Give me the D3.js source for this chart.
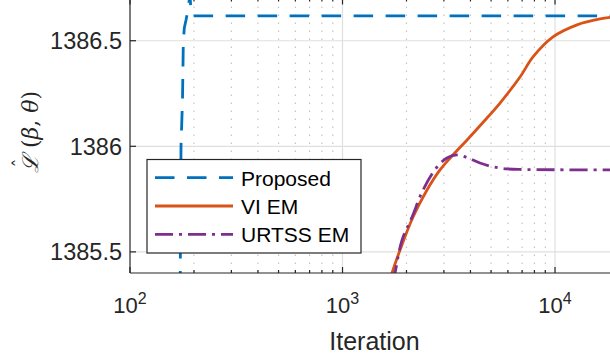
<!DOCTYPE html>
<html>
<head>
<meta charset="utf-8">
<script src="https://cdn.jsdelivr.net/npm/d3@7"></script>
<style>
  body { margin: 0; background: #fff; }
  svg { display: block; font-family: "Liberation Sans", Arial, Helvetica, sans-serif; }
</style>
</head>
<body>
<svg id="chart" width="610" height="361"></svg>
<script>
// Proposed: jumps up around iteration ~175, then flat
const proposedIter = [150, 170, 172.4, 173.8, 176.6, 178.2, 180.1, 183.5, 186.1, 188.1, 191.6, 193.5, 195.8, 20000];
const proposedVal  = [1383.5, 1385.0, 1385.4, 1386.0, 1386.22, 1386.495, 1386.56, 1386.598, 1386.631, 1386.66, 1386.72, 1386.64, 1386.618, 1386.618];

// VI EM
const viIter = [1550, 1710, 1865, 2147, 2498, 2876, 3311, 3855, 4600, 5510, 6843, 7877, 9787, 12695, 16285, 20000];
const viVal  = [1385.25, 1385.4, 1385.509, 1385.665, 1385.793, 1385.888, 1385.959, 1386.03, 1386.115, 1386.205, 1386.328, 1386.423, 1386.518, 1386.575, 1386.603, 1386.615];

// URTSS EM
const urtssIter = [1600, 1766, 1905, 2124, 2392, 2784, 3100, 3457, 3900, 4437, 5100, 5943, 7000, 10000, 20000];
const urtssVal  = [1385.2, 1385.4, 1385.556, 1385.665, 1385.793, 1385.902, 1385.945, 1385.959, 1385.945, 1385.921, 1385.903, 1385.893, 1385.89, 1385.889, 1385.888];

const xTicks = [100, 1000, 10000];
const xTickExp = ['2', '3', '4'];
const yTicks = [1385.5, 1386, 1386.5];
const yTickLabels = ['1385.5', '1386', '1386.5'];
const seriesNames = ['Proposed', 'VI EM', 'URTSS EM'];
const seriesColors = ['#0072BD', '#D95319', '#7E2F8E'];
const seriesDash = ['19.5,12.5', null, '18,6,3,6'];

const svg = d3.select('#chart');
const pLeft = 130, pRight = 619, pTop = -1.5, pBottom = 273;
const axisColor = '#262626';

const x = d3.scaleLog().domain([100, 20000]).range([pLeft, pRight]);
const y = d3.scaleLinear().domain([1385.4, 1386.7]).range([pBottom, pTop]);

// clip for plot area
svg.append('defs').append('clipPath').attr('id', 'plotClip')
  .append('rect').attr('x', pLeft).attr('y', pTop).attr('width', pRight - pLeft).attr('height', pBottom - pTop);

// minor values for log axis
const minorVals = [];
[100, 1000, 10000].forEach(d => {
  for (let k = 2; k <= 9; k++) if (d * k < 20000) minorVals.push(d * k);
});

const grid = svg.append('g');
// minor grid (dotted)
grid.selectAll('.minor-grid').data(minorVals).enter().append('line')
  .attr('x1', d => x(d)).attr('x2', d => x(d))
  .attr('y1', pTop).attr('y2', pBottom)
  .attr('stroke', '#c4c4c4').attr('stroke-width', 1.2)
  .attr('stroke-dasharray', '1.5,6.5');
// major grid
grid.selectAll('.xgrid').data(xTicks.slice(1)).enter().append('line')
  .attr('x1', d => x(d)).attr('x2', d => x(d))
  .attr('y1', pTop).attr('y2', pBottom)
  .attr('stroke', '#dfdfdf').attr('stroke-width', 1.2);
grid.selectAll('.ygrid').data(yTicks).enter().append('line')
  .attr('x1', pLeft).attr('x2', pRight)
  .attr('y1', d => y(d)).attr('y2', d => y(d))
  .attr('stroke', '#dfdfdf').attr('stroke-width', 1.2);

// series lines
const series = [
  { iter: proposedIter, val: proposedVal, curve: d3.curveLinear },
  { iter: viIter, val: viVal, curve: d3.curveCatmullRom.alpha(0.5) },
  { iter: urtssIter, val: urtssVal, curve: d3.curveCatmullRom.alpha(0.5) }
];
const plot = svg.append('g').attr('clip-path', 'url(#plotClip)');
series.forEach((s, i) => {
  const pts = s.iter.map((it, j) => [it, s.val[j]]);
  const line = d3.line().x(d => x(d[0])).y(d => y(d[1])).curve(s.curve);
  plot.append('path')
    .attr('d', line(pts))
    .attr('fill', 'none')
    .attr('stroke', seriesColors[i])
    .attr('stroke-width', 2.8)
    .attr('stroke-dasharray', seriesDash[i]);
});

// axes box lines
const ax = svg.append('g').attr('stroke', axisColor).attr('stroke-width', 1.2);
ax.append('line').attr('x1', pLeft).attr('x2', pRight).attr('y1', pBottom).attr('y2', pBottom);
ax.append('line').attr('x1', pLeft).attr('x2', pRight).attr('y1', pTop).attr('y2', pTop);
ax.append('line').attr('x1', pLeft).attr('x2', pLeft).attr('y1', pTop).attr('y2', pBottom);

// ticks (inward)
xTicks.forEach(d => {
  ax.append('line').attr('x1', x(d)).attr('x2', x(d)).attr('y1', pBottom).attr('y2', pBottom - 6);
  ax.append('line').attr('x1', x(d)).attr('x2', x(d)).attr('y1', pTop).attr('y2', pTop + 6);
});
minorVals.forEach(d => {
  ax.append('line').attr('x1', x(d)).attr('x2', x(d)).attr('y1', pBottom).attr('y2', pBottom - 3);
  ax.append('line').attr('x1', x(d)).attr('x2', x(d)).attr('y1', pTop).attr('y2', pTop + 3);
});
yTicks.forEach(d => {
  ax.append('line').attr('x1', pLeft).attr('x2', pLeft + 6).attr('y1', y(d)).attr('y2', y(d));
});

// tick labels
xTicks.forEach((d, i) => {
  const t = svg.append('text')
    .attr('x', x(d)).attr('y', 313)
    .attr('text-anchor', 'middle')
    .attr('fill', axisColor)
    .style('font-size', '22px')
    .text('10');
  t.append('tspan').attr('dy', -9).style('font-size', '16px').text(xTickExp[i]);
});
yTicks.forEach((d, i) => {
  svg.append('text')
    .attr('x', 122).attr('y', y(d))
    .attr('dy', '0.35em')
    .attr('text-anchor', 'end')
    .attr('fill', axisColor)
    .style('font-size', '23.5px')
    .text(yTickLabels[i]);
});

// axis labels
svg.append('text')
  .attr('x', (pLeft + pRight) / 2).attr('y', 350)
  .attr('text-anchor', 'middle')
  .attr('fill', axisColor)
  .style('font-size', '25px')
  .text('Iteration');

const yl = svg.append('g').attr('transform', 'translate(38,136) rotate(-90)');
const ylText = yl.append('text')
  .attr('x', -37).attr('y', 0)
  .attr('fill', axisColor)
  .style('font-family', '"DejaVu Serif", "Liberation Serif", serif')
  .style('font-size', '22px');
ylText.append('tspan').style('font-style', 'italic').text('\u2112');
ylText.append('tspan').text(' (');
ylText.append('tspan').style('font-style', 'italic').text('\u03B2');
ylText.append('tspan').text(', ');
ylText.append('tspan').style('font-style', 'italic').text('\u03B8');
ylText.append('tspan').text(')');
yl.append('text')
  .attr('x', -27).attr('y', -11)
  .attr('text-anchor', 'middle')
  .attr('fill', axisColor)
  .style('font-family', '"DejaVu Serif", serif')
  .style('font-size', '18px')
  .text('\u02C6');

// legend
const lg = svg.append('g');
lg.append('rect')
  .attr('x', 147).attr('y', 159.5).attr('width', 214).attr('height', 93.5)
  .attr('fill', '#fff').attr('stroke', axisColor).attr('stroke-width', 1.2);
seriesNames.forEach((name, i) => {
  const cy = 177.7 + i * 28.3;
  lg.append('line')
    .attr('x1', 155).attr('x2', 233).attr('y1', cy).attr('y2', cy)
    .attr('stroke', seriesColors[i]).attr('stroke-width', 2.8)
    .attr('stroke-dasharray', seriesDash[i]);
  lg.append('text')
    .attr('x', 241).attr('y', cy + 8)
    .attr('fill', '#000')
    .style('font-size', '21px')
    .text(name);
});
</script>
</body>
</html>
